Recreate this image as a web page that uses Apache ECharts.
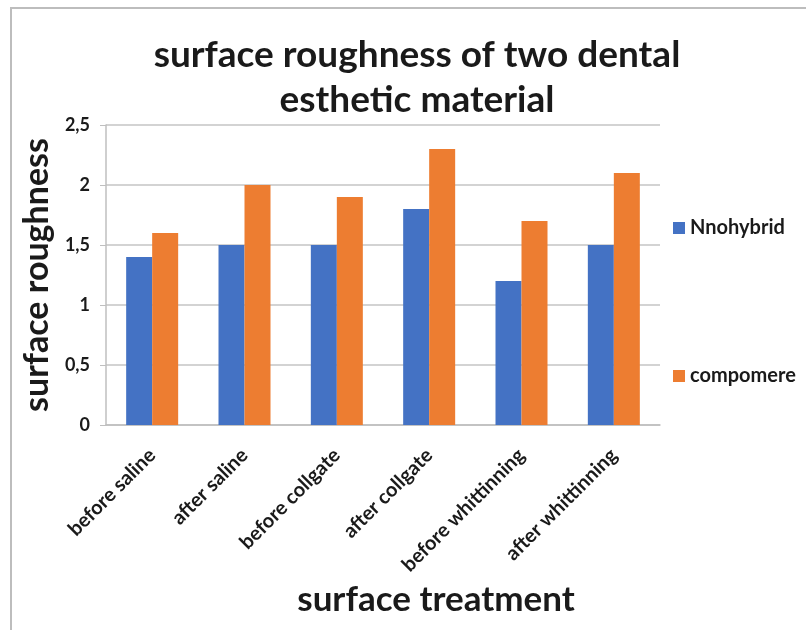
<!DOCTYPE html>
<html>
<head>
<meta charset="utf-8">
<script src="https://cdn.jsdelivr.net/npm/echarts@6/dist/echarts.min.js"></script>
<style>
  html, body { margin: 0; padding: 0; background: #ffffff; }
  #chart { width: 806px; height: 630px; }
</style>
</head>
<body>
<div id="chart"></div>
<script>
// Surface treatment groups along the x axis
const categories = [
  'before saline', 'after saline', 'before collgate',
  'after collgate', 'before whittinning', 'after whittinning'
];
// Roughness values per material
const nanohybridValues = [1.4, 1.5, 1.5, 1.8, 1.2, 1.5];
const compomereValues = [1.6, 2.0, 1.9, 2.3, 1.7, 2.1];
const seriesNames = ['Nnohybrid', 'compomere'];

const FONT = 'Lato, "Open Sans", sans-serif';
const TEXT_COLOR = '#1a1a1a';

const legendText = {
  fontFamily: FONT,
  fontWeight: 'bold',
  fontSize: 20,
  color: TEXT_COLOR
};

const chart = echarts.init(document.getElementById('chart'), null, { renderer: 'canvas' });

chart.setOption({
  backgroundColor: '#ffffff',
  animation: false,
  title: {
    text: 'surface roughness of two dental\nesthetic material',
    left: 412,
    top: 28,
    textAlign: 'center',
    textStyle: {
      fontFamily: FONT,
      fontWeight: 'bold',
      fontSize: 37,
      lineHeight: 45,
      color: TEXT_COLOR
    }
  },
  // one legend entry per position on the right side
  legend: [
    {
      orient: 'vertical',
      left: 668,
      top: 213,
      itemWidth: 12,
      itemHeight: 12,
      itemGap: 6,
      icon: 'rect',
      textStyle: legendText,
      data: [seriesNames[0]]
    },
    {
      orient: 'vertical',
      left: 668,
      top: 361,
      itemWidth: 12,
      itemHeight: 12,
      itemGap: 6,
      icon: 'rect',
      textStyle: legendText,
      data: [seriesNames[1]]
    }
  ],
  grid: {
    left: 106,
    right: 146,
    top: 125,
    bottom: 205
  },
  xAxis: {
    type: 'category',
    data: categories,
    axisLine: { lineStyle: { color: '#bfbfbf', width: 1.5 } },
    axisTick: { show: false },
    axisLabel: {
      rotate: 45,
      interval: 0,
      margin: 27,
      fontFamily: FONT,
      fontWeight: 'bold',
      fontSize: 20,
      color: TEXT_COLOR
    }
  },
  yAxis: {
    type: 'value',
    min: 0,
    max: 2.5,
    interval: 0.5,
    name: 'surface roughness',
    nameLocation: 'middle',
    nameRotate: 90,
    nameGap: 42,
    nameTextStyle: {
      fontFamily: FONT,
      fontWeight: 'bold',
      fontSize: 34,
      color: TEXT_COLOR
    },
    axisLine: { show: true, lineStyle: { color: '#bfbfbf', width: 1.5 } },
    axisTick: { show: true, length: 6, lineStyle: { color: '#bfbfbf' } },
    splitLine: { lineStyle: { color: '#c4c4c4', width: 1.5 } },
    axisLabel: {
      margin: 16,
      fontFamily: FONT,
      fontWeight: 'bold',
      fontSize: 18,
      color: TEXT_COLOR,
      formatter: v => String(v).replace('.', ',')
    }
  },
  series: [
    {
      name: seriesNames[0],
      type: 'bar',
      data: nanohybridValues,
      barWidth: 26,
      barGap: '0%',
      itemStyle: { color: '#4472C4' }
    },
    {
      name: seriesNames[1],
      type: 'bar',
      data: compomereValues,
      barWidth: 26,
      barGap: '0%',
      itemStyle: { color: '#ED7D31' }
    }
  ],
  graphic: [
    // chart frame edges
    { type: 'line', shape: { x1: 10, y1: 8, x2: 806, y2: 8 }, style: { stroke: '#bdbdbd', lineWidth: 2 } },
    { type: 'line', shape: { x1: 11, y1: 8, x2: 11, y2: 630 }, style: { stroke: '#bdbdbd', lineWidth: 2 } },
    // x axis title
    {
      type: 'text',
      x: 436,
      y: 600,
      style: {
        text: 'surface treatment',
        fontFamily: FONT,
        fontWeight: 'bold',
        fontSize: 35,
        fill: TEXT_COLOR,
        align: 'center',
        verticalAlign: 'middle'
      }
    }
  ]
});
</script>
</body>
</html>
